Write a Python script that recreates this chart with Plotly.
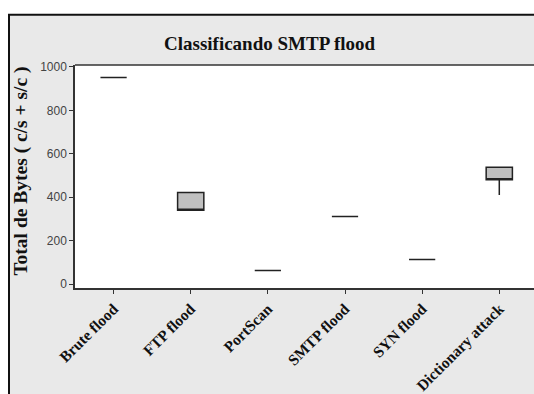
import plotly.graph_objects as go

categories = ["Brute flood", "FTP flood", "PortScan", "SMTP flood", "SYN flood", "Dictionary attack"]
q1_vals = [952, 340, 63, 311, 113, 480]
median_vals = [952, 340, 63, 311, 113, 480]
q3_vals = [952, 422, 63, 311, 113, 538]
lower_vals = [952, 340, 63, 311, 113, 410]
upper_vals = [952, 422, 63, 311, 113, 538]
y_ticks = [0, 200, 400, 600, 800, 1000]

W, H = 534, 394
L, R, T, B = 75, 0, 65, 394 - 293
pw = W - L - R
ph = H - T - B

def px_x(p):
    return (p - L) / pw

def px_y(p):
    return (H - B - p) / ph

fig = go.Figure()
fig.add_trace(go.Box(
    x=categories,
    q1=q1_vals, median=median_vals, q3=q3_vals,
    lowerfence=lower_vals, upperfence=upper_vals,
    width=0.34,
    fillcolor="#c0c0c0",
    line=dict(color="#222222", width=1.5),
    whiskerwidth=0,
    boxpoints=False,
    showlegend=False,
    hoverinfo="skip",
))

# white margins above and left of the grey frame, plus frame lines
fig.add_shape(type="rect", xref="paper", yref="paper",
              x0=-0.5, x1=1.5, y0=px_y(13), y1=px_y(-20),
              fillcolor="white", line=dict(width=0), layer="below")
fig.add_shape(type="rect", xref="paper", yref="paper",
              x0=px_x(-20), x1=px_x(8), y0=-1.0, y1=px_y(-20),
              fillcolor="white", line=dict(width=0), layer="below")
fig.add_shape(type="line", xref="paper", yref="paper",
              x0=px_x(8), x1=1.2, y0=px_y(13.5), y1=px_y(13.5),
              line=dict(color="#111111", width=2))
fig.add_shape(type="line", xref="paper", yref="paper",
              x0=px_x(9), x1=px_x(9), y0=px_y(13), y1=-1.0,
              line=dict(color="#111111", width=2))

fig.add_annotation(text="<b>Classificando SMTP flood</b>", xref="paper", yref="paper",
                   x=px_x(270), y=px_y(43), showarrow=False,
                   font=dict(family="Liberation Serif", size=19, color="#111111"),
                   xanchor="center", yanchor="middle")
fig.add_annotation(text="<b>Total de Bytes ( c/s + s/c )</b>", xref="paper", yref="paper",
                   x=px_x(21), y=px_y(174), showarrow=False, textangle=-90,
                   font=dict(family="Liberation Serif", size=19.5, color="#111111"),
                   xanchor="center", yanchor="middle")

fig.update_layout(
    width=W, height=H,
    margin=dict(l=L, r=R, t=T, b=B, pad=0),
    paper_bgcolor="#e9e9e9",
    plot_bgcolor="white",
    xaxis=dict(
        type="category",
        categoryorder="array", categoryarray=categories,
        range=[-0.5, 5.45],
        showline=True, linecolor="#333333", linewidth=1.5, mirror=False,
        ticks="outside", ticklen=4, tickcolor="#333333",
        tickangle=-45,
        tickfont=dict(family="Liberation Serif", size=15.5, color="#111111"),
        tickvals=categories,
        ticktext=["<b>%s</b>" % c for c in categories],
        showgrid=False, zeroline=False,
    ),
    yaxis=dict(
        range=[-18, 1009],
        tickvals=y_ticks,
        showline=True, linecolor="#333333", linewidth=1.5,
        ticks="outside", ticklen=4, tickcolor="#333333",
        tickfont=dict(family="Liberation Sans", size=12, color="#444444"),
        showgrid=False, zeroline=False,
    ),
)
# top border of plot area
fig.add_shape(type="line", xref="paper", yref="paper", x0=0, x1=1.2, y0=1, y1=1,
              line=dict(color="#333333", width=1.5))

fig.write_html(
    "out.html",
    config={"displayModeBar": False},
    post_script="document.body.style.margin='0';document.documentElement.style.overflow='hidden';document.body.style.overflow='hidden';",
)
